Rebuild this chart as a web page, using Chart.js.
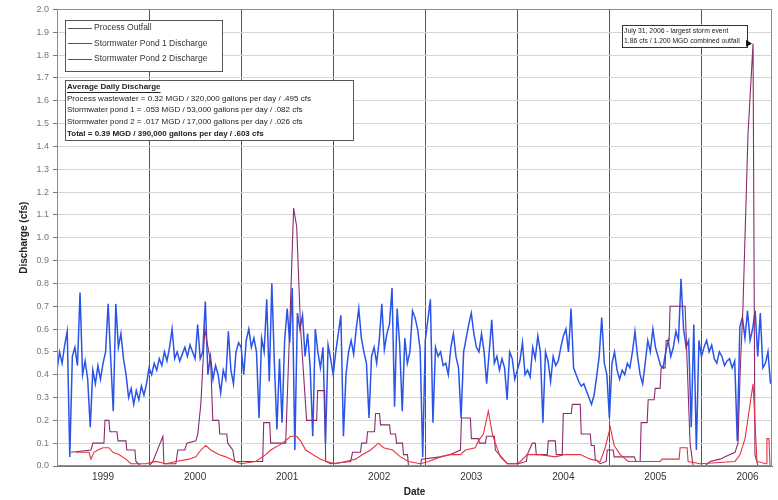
<!DOCTYPE html>
<html><head><meta charset="utf-8">
<script src="https://cdn.jsdelivr.net/npm/chart.js@4/dist/chart.umd.min.js"></script>
<style>html,body{margin:0;padding:0;background:#fff}#wrap{width:778px;height:500px}</style>
</head><body><div id="wrap"><canvas id="c" width="778" height="500"></canvas></div>
<script>
const seriesNames = ['Process Outfall', 'Stormwater Pond 1 Discharge', 'Stormwater Pond 2 Discharge'];
const yearLabels = ['1999','2000','2001','2002','2003','2004','2005','2006'];
const xMin = 1999, xMax = 2006.766;

// Process outfall: sampled about every 1/36 of a year starting Jan 1999
const processStart = 1999, processStep = 1/36;
const processValues = [
 0.42,0.50,0.45,0.53,0.59,0.04,0.48,0.52,0.44,0.76,0.40,0.46,0.38,0.17,0.42,0.36,0.44,0.38,0.45,0.50,0.71,0.47,0.24,0.71,0.52,0.58,0.47,0.40,0.30,0.34,0.27,0.33,0.29,0.35,0.31,0.36,
 0.43,0.40,0.45,0.42,0.47,0.44,0.50,0.46,0.52,0.60,0.47,0.50,0.46,0.49,0.52,0.48,0.53,0.50,0.47,0.62,0.47,0.50,0.72,0.40,0.48,0.38,0.44,0.40,0.32,0.42,0.38,0.59,0.42,0.36,0.50,0.54,
 0.52,0.40,0.55,0.60,0.52,0.56,0.50,0.21,0.56,0.50,0.73,0.37,0.80,0.45,0.16,0.47,0.19,0.55,0.69,0.54,0.78,0.07,0.67,0.60,0.66,0.48,0.58,0.43,0.13,0.60,0.50,0.43,0.52,0.10,0.53,0.47,
 0.40,0.50,0.58,0.66,0.13,0.40,0.50,0.55,0.49,0.60,0.69,0.56,0.50,0.45,0.21,0.48,0.52,0.45,0.55,0.71,0.51,0.58,0.62,0.78,0.26,0.69,0.53,0.24,0.56,0.45,0.50,0.68,0.65,0.60,0.51,0.04,
 0.55,0.64,0.73,0.19,0.52,0.48,0.50,0.44,0.45,0.40,0.52,0.58,0.48,0.43,0.21,0.50,0.56,0.62,0.67,0.58,0.52,0.50,0.58,0.50,0.36,0.50,0.64,0.45,0.48,0.42,0.47,0.43,0.29,0.50,0.47,0.38,
 0.42,0.46,0.54,0.40,0.42,0.39,0.52,0.47,0.57,0.50,0.19,0.50,0.46,0.37,0.48,0.44,0.46,0.52,0.57,0.60,0.50,0.69,0.43,0.40,0.37,0.35,0.36,0.33,0.30,0.27,0.31,0.39,0.48,0.65,0.45,0.40,
 0.21,0.45,0.50,0.42,0.38,0.42,0.40,0.45,0.43,0.50,0.59,0.48,0.40,0.36,0.45,0.55,0.50,0.60,0.52,0.48,0.44,0.43,0.50,0.55,0.48,0.52,0.59,0.55,0.82,0.60,0.52,0.55,0.17,0.62,0.07,0.55,
 0.48,0.52,0.55,0.50,0.53,0.47,0.45,0.50,0.48,0.44,0.46,0.47,0.43,0.46,0.11,0.61,0.65,0.56,0.68,0.55,0.60,0.68,0.48,0.67,0.43,0.45,0.50,0.36
];

const pond1Dates = [
 1999.152,1999.369,1999.390,1999.510,1999.521,1999.564,1999.575,1999.651,1999.662,1999.748,1999.759,1999.846,1999.857,1999.911,1999.998,
 2000.041,2000.150,2000.161,2000.291,2000.312,2000.388,2000.410,2000.508,2000.529,2000.562,2000.605,2000.670,2000.692,2000.757,2000.768,2000.844,2000.855,2000.909,2000.931,
 2001.234,2001.245,2001.310,2001.321,2001.484,2001.527,2001.570,2001.603,2001.646,2001.711,2001.820,2001.831,2001.907,2001.918,2001.972,
 2002.189,2002.210,2002.297,2002.308,2002.362,2002.373,2002.449,2002.460,2002.503,2002.514,2002.612,2002.623,2002.677,2002.688,2002.753,2002.764,2002.807,2002.818,2002.948,2002.959,
 2003.165,2003.273,2003.382,2003.393,2003.490,2003.501,2003.577,2003.588,2003.653,2003.664,2003.751,2003.761,2003.848,2003.892,
 2004.011,2004.098,2004.108,2004.163,2004.195,2004.206,2004.325,2004.336,2004.412,2004.423,2004.488,2004.499,2004.586,2004.597,2004.683,2004.694,2004.792,2004.803,2004.835,2004.846,2004.900,2004.965,2004.976,
 2005.041,2005.052,2005.269,2005.291,2005.334,2005.345,2005.410,2005.421,2005.486,2005.497,2005.551,2005.562,2005.605,2005.616,2005.649,2005.659,2005.822,2005.876,2005.909,
 2006.039,2006.093,2006.202,2006.256,2006.364,2006.397,2006.419,2006.451,2006.505,2006.560,2006.581,2006.614,2006.766
];
const pond1Values = [
 0.06,0.07,0.10,0.10,0.20,0.20,0.15,0.15,0.11,0.11,0.07,0.07,0.02,0.00,0.00,
 0.02,0.13,0.01,0.01,0.07,0.07,0.10,0.11,0.14,0.27,0.60,0.45,0.20,0.20,0.14,0.14,0.10,0.07,0.02,
 0.02,0.19,0.19,0.10,0.10,0.60,1.13,1.05,0.60,0.20,0.20,0.33,0.33,0.02,0.01,
 0.02,0.06,0.06,0.10,0.10,0.15,0.15,0.23,0.23,0.18,0.18,0.14,0.14,0.10,0.10,0.05,0.05,0.00,0.00,0.03,
 0.04,0.05,0.07,0.21,0.21,0.12,0.12,0.10,0.10,0.13,0.13,0.07,0.03,0.01,
 0.01,0.02,0.05,0.10,0.10,0.05,0.05,0.11,0.11,0.05,0.05,0.23,0.23,0.27,0.27,0.14,0.14,0.09,0.09,0.03,0.01,0.02,0.07,
 0.07,0.04,0.04,0.02,0.02,0.19,0.19,0.29,0.29,0.34,0.34,0.43,0.43,0.55,0.55,0.70,0.70,0.10,0.00,
 0.00,0.02,0.03,0.04,0.06,0.10,0.40,0.70,1.45,1.85,0.05,0.00,0.00
];

const pond2Dates = [
 1999.206,1999.347,1999.369,1999.401,1999.445,1999.499,1999.564,1999.607,1999.672,1999.748,1999.803,1999.965,
 2000.074,2000.182,2000.291,2000.432,2000.508,2000.562,2000.616,2000.670,2000.757,2000.833,2000.941,2000.996,
 2001.158,2001.267,2001.321,2001.451,2001.538,2001.603,2001.646,2001.701,2001.777,2001.863,2001.928,
 2002.026,2002.134,2002.243,2002.319,2002.406,2002.492,2002.547,2002.644,2002.731,2002.818,2002.948,
 2003.035,2003.165,2003.273,2003.382,2003.436,2003.544,2003.577,2003.631,2003.685,2003.729,2003.761,2003.816,2003.892,2003.978,
 2004.033,2004.108,2004.249,2004.412,2004.521,2004.683,2004.792,2004.900,2004.954,
 2005.009,2005.052,2005.117,2005.204,2005.551,2005.573,2005.757,2005.768,2005.844,2005.855,2005.985,
 2006.364,2006.419,2006.473,2006.560,2006.603,2006.701,2006.711,2006.733,2006.744,2006.766
];
const pond2Values = [
 0.06,0.06,0.03,0.06,0.07,0.08,0.08,0.06,0.05,0.03,0.01,0.01,
 0.02,0.01,0.02,0.03,0.04,0.07,0.09,0.07,0.05,0.04,0.02,0.01,
 0.02,0.05,0.07,0.10,0.13,0.13,0.11,0.07,0.05,0.03,0.02,
 0.01,0.02,0.03,0.05,0.07,0.10,0.08,0.07,0.04,0.02,0.01,
 0.02,0.04,0.05,0.05,0.07,0.08,0.11,0.14,0.24,0.14,0.10,0.04,0.01,0.01,
 0.02,0.05,0.05,0.04,0.05,0.05,0.03,0.02,0.08,
 0.17,0.09,0.05,0.02,0.02,0.03,0.03,0.08,0.08,0.02,0.01,
 0.02,0.05,0.12,0.36,0.02,0.01,0.12,0.12,0.00,0.00
];

const summaryLines = [
 'Average Daily Discharge',
 'Process wastewater = 0.32 MGD / 320,000 gallons per day / .495 cfs',
 'Stormwater pond 1 = .053 MGD / 53,000 gallons per day / .082 cfs',
 'Stormwater pond 2 = .017 MGD / 17,000 gallons per day / .026 cfs',
 'Total = 0.39 MGD / 390,000 gallons per day / .603 cfs'
];
const noteLines = ['July 31, 2006 - largest storm event', '1.86 cfs / 1.200 MGD combined outfall'];

const colors = ['#2a54e8', '#8a2c6c', '#e8323f'];
const FONT = "'Liberation Sans', Arial, Helvetica, sans-serif";

const processData = processValues.map((v, i) => ({x: processStart + i * processStep, y: v}));
const pond1Data = pond1Dates.map((d, i) => ({x: d, y: pond1Values[i]}));
const pond2Data = pond2Dates.map((d, i) => ({x: d, y: pond2Values[i]}));

const xTickValues = [];
yearLabels.forEach(y => { xTickValues.push(+y); xTickValues.push(+y + 0.5); });

const overlay = {
  id: 'overlay',
  afterDraw(chart) {
    const ctx = chart.ctx, a = chart.chartArea;
    const sx = chart.scales.x, sy = chart.scales.y;
    ctx.save();
    ctx.strokeStyle = '#8c8c8c'; ctx.lineWidth = 1;
    ctx.strokeRect(Math.round(a.left) + 0.5, Math.round(a.top) + 0.5, Math.round(a.right - a.left) - 1, Math.round(a.bottom - a.top) - 1);

    ctx.fillStyle = '#fff'; ctx.strokeStyle = '#555';
    ctx.fillRect(65, 20, 157, 51); ctx.strokeRect(65.5, 20.5, 157, 51);
    ctx.font = '8.5px ' + FONT; ctx.textBaseline = 'middle'; ctx.textAlign = 'left';
    seriesNames.forEach((n, i) => {
      const y = 28 + i * 15.3;
      ctx.strokeStyle = '#555'; ctx.lineWidth = 1;
      ctx.beginPath(); ctx.moveTo(68, Math.round(y) + 0.5); ctx.lineTo(92, Math.round(y) + 0.5); ctx.stroke();
      ctx.fillStyle = '#333'; ctx.fillText(n, 94, y);
    });

    ctx.fillStyle = '#fff'; ctx.strokeStyle = '#555'; ctx.lineWidth = 1;
    ctx.fillRect(65, 80, 288, 60); ctx.strokeRect(65.5, 80.5, 288, 60);
    summaryLines.forEach((t, i) => {
      const y = 87 + i * 11.6;
      const bold = (i === 0 || i === summaryLines.length - 1);
      ctx.font = (bold ? 'bold ' : '') + '8px ' + FONT;
      ctx.fillStyle = '#222';
      ctx.fillText(t, 67, y);
      if (i === 0) {
        const w = ctx.measureText(t).width;
        ctx.strokeStyle = '#222';
        ctx.beginPath(); ctx.moveTo(67, y + 5.5); ctx.lineTo(67 + w, y + 5.5); ctx.stroke();
      }
    });

    let pk = 0; pond1Values.forEach((v, i) => { if (v > pond1Values[pk]) pk = i; });
    const tipX = sx.getPixelForValue(pond1Dates[pk]), tipY = sy.getPixelForValue(pond1Values[pk]);
    const bw = 125, bh = 22, bx = tipX - 6 - bw, by = tipY - 19;
    ctx.fillStyle = '#fff'; ctx.strokeStyle = '#333';
    ctx.fillRect(bx, by, bw, bh); ctx.strokeRect(Math.round(bx) + 0.5, Math.round(by) + 0.5, bw, bh);
    ctx.font = '6.8px ' + FONT; ctx.fillStyle = '#222';
    ctx.fillText(noteLines[0], bx + 2, by + 6);
    ctx.fillText(noteLines[1], bx + 2, by + 16);
    ctx.fillStyle = '#111';
    ctx.beginPath(); ctx.moveTo(tipX - 7, tipY - 4); ctx.lineTo(tipX - 1, tipY); ctx.lineTo(tipX - 7, tipY + 3); ctx.closePath(); ctx.fill();
    ctx.restore();
  }
};

new Chart(document.getElementById('c'), {
  type: 'line',
  data: {
    datasets: [
      {label: seriesNames[0], data: processData, borderColor: colors[0], borderWidth: 1.5, pointRadius: 0, tension: 0, order: 2},
      {label: seriesNames[1], data: pond1Data, borderColor: colors[1], borderWidth: 1.1, pointRadius: 0, tension: 0, order: 1},
      {label: seriesNames[2], data: pond2Data, borderColor: colors[2], borderWidth: 1.1, pointRadius: 0, tension: 0, order: 0}
    ]
  },
  options: {
    responsive: false, animation: false, devicePixelRatio: 1,
    layout: {padding: {top: 6, right: 6, left: 0, bottom: 0}},
    plugins: {legend: {display: false}, tooltip: {enabled: false}},
    scales: {
      x: {
        type: 'linear', min: xMin, max: xMax,
        afterBuildTicks: s => { s.ticks = xTickValues.map(v => ({value: v})); },
        afterFit: s => { s.height = 34; },
        ticks: {
          autoSkip: false, maxRotation: 0, padding: 5, color: '#333',
          font: {family: FONT, size: 10},
          callback: v => Number.isInteger(v) ? '' : String(Math.floor(v))
        },
        grid: {
          drawTicks: false,
          color: c => (c.tick && Number.isInteger(c.tick.value)) ? '#555' : 'rgba(0,0,0,0)',
          lineWidth: 1
        },
        border: {display: true, color: '#777'},
        title: {display: true, text: 'Date', color: '#222', font: {family: FONT, size: 10, weight: 'bold'}, padding: {top: 0, bottom: 2}}
      },
      y: {
        min: 0, max: 2.0,
        afterFit: s => { s.width = 57; },
        ticks: {stepSize: 0.1, padding: 4, color: '#777', font: {family: FONT, size: 9}, callback: v => Number(v).toFixed(1)},
        grid: {color: '#d6d6d6', tickColor: '#777', tickLength: 4, lineWidth: 1},
        border: {display: true, color: '#777'},
        title: {display: true, text: 'Discharge (cfs)', color: '#222', font: {family: FONT, size: 10, weight: 'bold'}, padding: {top: 18, bottom: 0}}
      }
    }
  },
  plugins: [overlay]
});
</script></body></html>
